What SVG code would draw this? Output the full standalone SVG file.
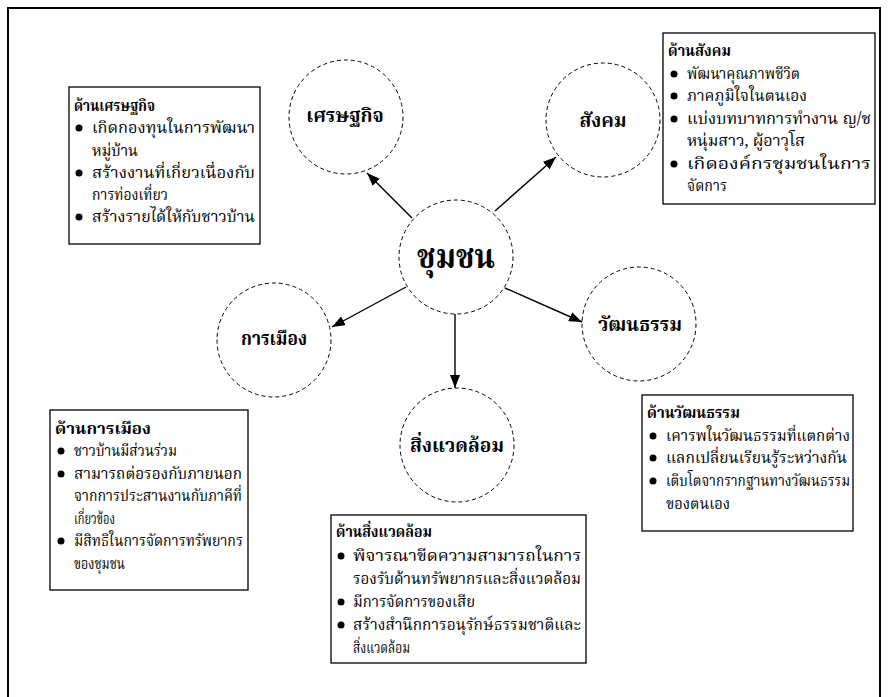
<svg xmlns="http://www.w3.org/2000/svg" width="889" height="697" viewBox="0 0 889 697">
<style>
.t{font-family:"Noto Serif Thai","Noto Sans Thai","Tlwg Typo","Norasi","Garuda","Loma","DejaVu Serif",serif;font-size:15.5px;fill:#000}
.h{font-weight:bold}
.lbl{font-family:"Noto Serif Thai","Noto Sans Thai","Norasi","Garuda","Loma","DejaVu Serif",serif;font-weight:bold;font-size:19px;text-anchor:middle;fill:#000}
.c{fill:none;stroke:#000;stroke-width:1;stroke-dasharray:4 3}
.b{fill:#fff;stroke:#000;stroke-width:1.3}
.cn{stroke:#000;stroke-width:1.4;fill:none}
</style>
<defs>
<marker id="ah" markerUnits="userSpaceOnUse" markerWidth="14" markerHeight="10" refX="13" refY="5" orient="auto">
<path d="M0,0 L13,5 L0,10 z" fill="#000"/>
</marker>
</defs>
<rect width="889" height="697" fill="#fff"/>
<path d="M8,697 V8 H880 V697" fill="none" stroke="#000" stroke-width="2"/>

<g id="connectors">
<line class="cn" x1="412" y1="218" x2="367" y2="173" marker-end="url(#ah)"/>
<line class="cn" x1="495" y1="211" x2="556" y2="157" marker-end="url(#ah)"/>
<line class="cn" x1="406" y1="287" x2="332" y2="327" marker-end="url(#ah)"/>
<line class="cn" x1="505" y1="288" x2="582" y2="322" marker-end="url(#ah)"/>
<line class="cn" x1="455" y1="314" x2="455" y2="388" marker-end="url(#ah)"/>
</g>

<g id="n-center"><circle class="c" cx="456" cy="257" r="57"/><text class="lbl" x="456" y="268" style="font-size:34px" textLength="78" lengthAdjust="spacingAndGlyphs">ชุมชน</text></g>
<g id="n-econ"><circle class="c" cx="346" cy="117" r="57"/><text class="lbl" x="345" y="122">เศรษฐกิจ</text></g>
<g id="n-social"><circle class="c" cx="603" cy="120" r="57"/><text class="lbl" x="603" y="127">สังคม</text></g>
<g id="n-politics"><circle class="c" cx="274" cy="340" r="57"/><text class="lbl" x="274" y="345" textLength="66" lengthAdjust="spacingAndGlyphs">การเมือง</text></g>
<g id="n-culture"><circle class="c" cx="639" cy="324" r="57"/><text class="lbl" x="640" y="331" textLength="84" lengthAdjust="spacingAndGlyphs">วัฒนธรรม</text></g>
<g id="n-env"><circle class="c" cx="457" cy="445" r="57"/><text class="lbl" x="457" y="452">สิ่งแวดล้อม</text></g>

<g id="box-econ">
<rect class="b" x="69" y="87" width="191" height="157"/>
<text class="t h" x="74" y="111" textLength="81" lengthAdjust="spacingAndGlyphs">ด้านเศรษฐกิจ</text>
<circle cx="79" cy="128" r="3.5"/><text class="t" x="92" y="133" textLength="163" lengthAdjust="spacingAndGlyphs">เกิดกองทุนในการพัฒนา</text>
<text class="t" x="92" y="156" textLength="46" lengthAdjust="spacingAndGlyphs">หมู่บ้าน</text>
<circle cx="79" cy="173" r="3.5"/><text class="t" x="92" y="178" textLength="163" lengthAdjust="spacingAndGlyphs">สร้างงานที่เกี่ยวเนื่องกับ</text>
<text class="t" x="92" y="200" textLength="76" lengthAdjust="spacingAndGlyphs">การท่องเที่ยว</text>
<circle cx="79" cy="217" r="3.5"/><text class="t" x="92" y="222" textLength="163" lengthAdjust="spacingAndGlyphs">สร้างรายได้ให้กับชาวบ้าน</text>
</g>

<g id="box-social">
<rect class="b" x="663" y="33" width="212" height="171"/>
<text class="t h" x="668" y="56" textLength="63" lengthAdjust="spacingAndGlyphs">ด้านสังคม</text>
<circle cx="674" cy="74" r="3.5"/><text class="t" x="687" y="79" textLength="113" lengthAdjust="spacingAndGlyphs">พัฒนาคุณภาพชีวิต</text>
<circle cx="674" cy="96" r="3.5"/><text class="t" x="687" y="101" textLength="120" lengthAdjust="spacingAndGlyphs">ภาคภูมิใจในตนเอง</text>
<circle cx="674" cy="119" r="3.5"/><text class="t" x="687" y="124" textLength="184" lengthAdjust="spacingAndGlyphs">แบ่งบทบาทการทำงาน ญ/ช</text>
<text class="t" x="687" y="146" textLength="118" lengthAdjust="spacingAndGlyphs">หนุ่มสาว, ผู้อาวุโส</text>
<circle cx="674" cy="164" r="3.5"/><text class="t" x="687" y="169" textLength="184" lengthAdjust="spacingAndGlyphs">เกิดองค์กรชุมชนในการ</text>
<text class="t" x="687" y="191" textLength="40" lengthAdjust="spacingAndGlyphs">จัดการ</text>
</g>

<g id="box-politics">
<rect class="b" x="50" y="410" width="198" height="180"/>
<text class="t h" x="55" y="434" textLength="96" lengthAdjust="spacingAndGlyphs">ด้านการเมือง</text>
<circle cx="61" cy="451" r="3.5"/><text class="t" x="74" y="456" textLength="103" lengthAdjust="spacingAndGlyphs">ชาวบ้านมีส่วนร่วม</text>
<circle cx="61" cy="474" r="3.5"/><text class="t" x="74" y="479" textLength="168" lengthAdjust="spacingAndGlyphs">สามารถต่อรองกับภายนอก</text>
<text class="t" x="74" y="501" textLength="168" lengthAdjust="spacingAndGlyphs">จากการประสานงานกับภาคีที่</text>
<text class="t" x="74" y="524" textLength="41" lengthAdjust="spacingAndGlyphs">เกี่ยวข้อง</text>
<circle cx="61" cy="541" r="3.5"/><text class="t" x="74" y="546" textLength="169" lengthAdjust="spacingAndGlyphs">มีสิทธิในการจัดการทรัพยากร</text>
<text class="t" x="74" y="569" textLength="51" lengthAdjust="spacingAndGlyphs">ของชุมชน</text>
</g>

<g id="box-culture">
<rect class="b" x="642" y="395" width="211" height="136"/>
<text class="t h" x="647" y="418" textLength="93" lengthAdjust="spacingAndGlyphs">ด้านวัฒนธรรม</text>
<circle cx="653" cy="436" r="3.5"/><text class="t" x="666" y="441" textLength="184" lengthAdjust="spacingAndGlyphs">เคารพในวัฒนธรรมที่แตกต่าง</text>
<circle cx="653" cy="458" r="3.5"/><text class="t" x="666" y="463" textLength="181" lengthAdjust="spacingAndGlyphs">แลกเปลี่ยนเรียนรู้ระหว่างกัน</text>
<circle cx="653" cy="481" r="3.5"/><text class="t" x="666" y="486" textLength="184" lengthAdjust="spacingAndGlyphs">เติบโตจากรากฐานทางวัฒนธรรม</text>
<text class="t" x="666" y="509" textLength="64" lengthAdjust="spacingAndGlyphs">ของตนเอง</text>
</g>

<g id="box-env">
<rect class="b" x="331" y="515" width="255" height="148"/>
<text class="t h" x="336" y="537" textLength="96" lengthAdjust="spacingAndGlyphs">ด้านสิ่งแวดล้อม</text>
<circle cx="341" cy="556" r="3.5"/><text class="t" x="353" y="561" textLength="228" lengthAdjust="spacingAndGlyphs">พิจารณาขีดความสามารถในการ</text>
<text class="t" x="353" y="584" textLength="228" lengthAdjust="spacingAndGlyphs">รองรับด้านทรัพยากรและสิ่งแวดล้อม</text>
<circle cx="341" cy="602" r="3.5"/><text class="t" x="353" y="607" textLength="122" lengthAdjust="spacingAndGlyphs">มีการจัดการของเสีย</text>
<circle cx="341" cy="625" r="3.5"/><text class="t" x="353" y="630" textLength="228" lengthAdjust="spacingAndGlyphs">สร้างสำนึกการอนุรักษ์ธรรมชาติและ</text>
<text class="t" x="353" y="653" textLength="57" lengthAdjust="spacingAndGlyphs">สิ่งแวดล้อม</text>
</g>
</svg>
